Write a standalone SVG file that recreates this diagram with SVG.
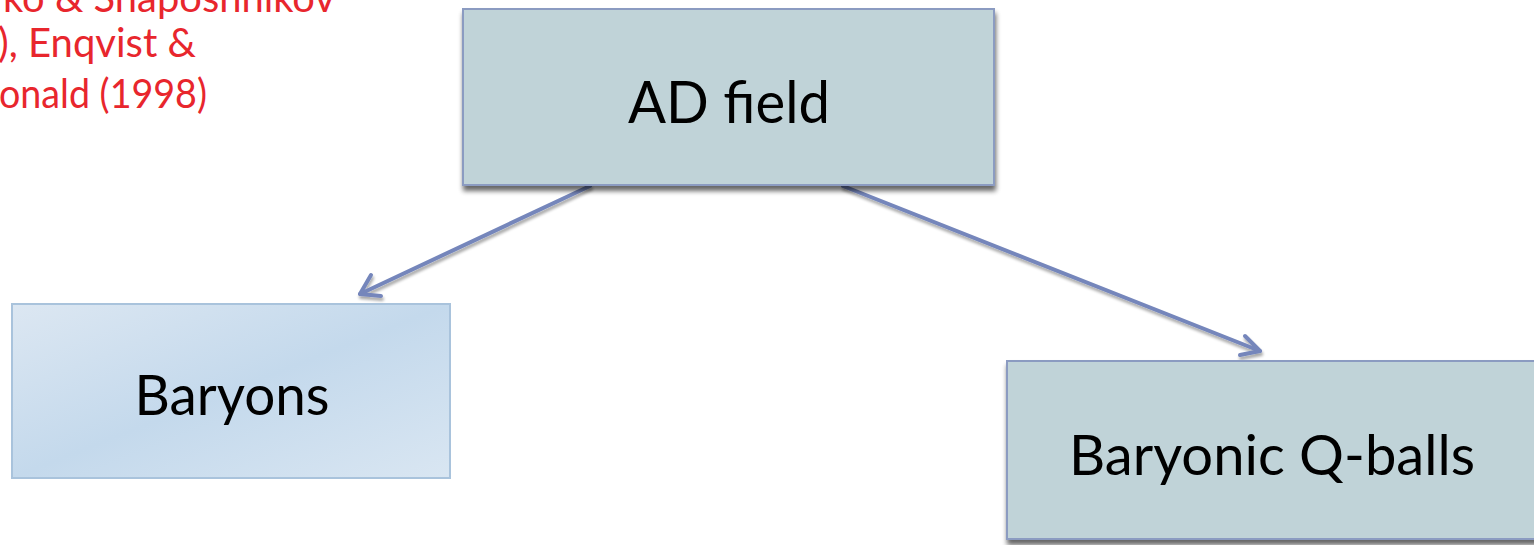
<svg xmlns="http://www.w3.org/2000/svg" width="1534" height="545" viewBox="0 0 1534 545">
<style>
.box{fill:#c0d3d8;stroke:#8b9bc1;stroke-width:2}
.lbl{font-family:Lato,"Liberation Sans",sans-serif;fill:#000;text-anchor:middle}
.red{font-family:Lato,"Liberation Sans",sans-serif;fill:#e8262d;font-size:41px;text-anchor:end}
.conn{fill:none;stroke:#7586bb;stroke-width:4;stroke-linecap:round;stroke-linejoin:round}
</style>
<defs>
<filter id="sh" x="-10%" y="-10%" width="120%" height="130%">
<feGaussianBlur in="SourceAlpha" stdDeviation="2.5"/>
<feOffset dx="1" dy="5" result="b"/>
<feComponentTransfer><feFuncA type="linear" slope="0.6"/></feComponentTransfer>
<feMerge><feMergeNode/><feMergeNode in="SourceGraphic"/></feMerge>
</filter>
<filter id="lsh" x="-10%" y="-10%" width="120%" height="130%">
<feGaussianBlur in="SourceAlpha" stdDeviation="1.5"/>
<feOffset dx="1" dy="3" result="b"/>
<feComponentTransfer><feFuncA type="linear" slope="0.35"/></feComponentTransfer>
<feMerge><feMergeNode/><feMergeNode in="SourceGraphic"/></feMerge>
</filter>
<linearGradient id="bg" x1="0" y1="0" x2="1" y2="1">
<stop offset="0" stop-color="#dce7f2"/>
<stop offset="0.5" stop-color="#c4d9ec"/>
<stop offset="1" stop-color="#d9e6f2"/>
</linearGradient>
</defs>
<rect width="1534" height="545" fill="#fff"/>
<g id="citation">
<text class="red" x="335" y="12" textLength="332" lengthAdjust="spacingAndGlyphs">ko &amp; Shaposhnikov</text>
<text class="red" x="196" y="57" textLength="198" lengthAdjust="spacingAndGlyphs">), Enqvist &amp;</text>
<text class="red" x="207" y="108" textLength="208" lengthAdjust="spacingAndGlyphs">onald (1998)</text>
</g>
<g id="connectors" filter="url(#lsh)">
<path class="conn" d="M590,186 L360,294"/>
<path class="conn" d="M371,275 L360,294 L381,296"/>
<path class="conn" d="M843,186 L1260,351"/>
<path class="conn" d="M1245,336 L1260,351 L1240,355"/>
</g>
<g id="ad-field">
<rect class="box" x="463" y="9" width="531" height="176" filter="url(#sh)"/>
<text class="lbl" x="729" y="123" font-size="58" textLength="202" lengthAdjust="spacingAndGlyphs">AD field</text>
</g>
<g id="baryons">
<rect x="12" y="304" width="438" height="174" fill="url(#bg)" stroke="#a9c3dc" stroke-width="2"/>
<text class="lbl" x="232" y="415" font-size="56" textLength="195" lengthAdjust="spacingAndGlyphs">Baryons</text>
</g>
<g id="q-balls">
<rect class="box" x="1007" y="361" width="540" height="178" filter="url(#sh)"/>
<text class="lbl" x="1272" y="475" font-size="56" textLength="406" lengthAdjust="spacingAndGlyphs">Baryonic Q-balls</text>
</g>
</svg>
